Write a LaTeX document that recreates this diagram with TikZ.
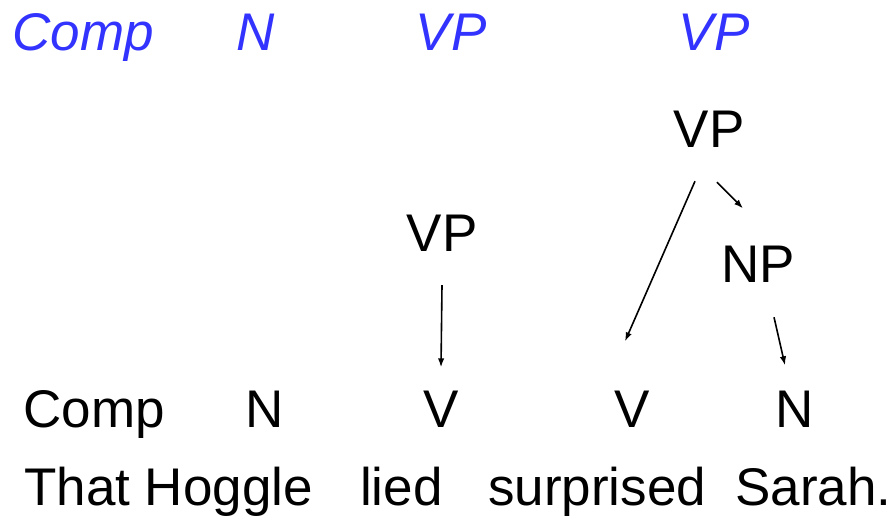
\documentclass[tikz,border=0pt]{standalone}
\usepackage{fontspec}
\setmainfont{Liberation Sans}
\usepackage{xcolor}
\usetikzlibrary{arrows,arrows.meta,positioning}
\definecolor{guessblue}{RGB}{51,51,255}

\begin{document}
\begin{tikzpicture}[
    x=1pt, y=-1pt,
    >={Latex[length=9pt,width=6.5pt]},
    font=\fontsize{53}{60}\selectfont,
    cat/.style={
		anchor=base,
		inner sep=0pt
	},
	guess/.style={
		cat,
		font=\fontsize{53}{60}\selectfont\itshape,
		text=guessblue
	},
	word/.style={
		anchor=base west,
		inner sep=0pt
	},
	link/.style={
		draw,
		->,
		line width=1.6pt
	}
  ]
  \useasboundingbox (0,0) rectangle (890,516);
    % We start by placing the guesses on top

  \node [guess] (gcomp) at (83,51) {Comp};
  \node [guess] (gn) at (256,51) {N};
  \node [guess] (gvpa) at (451,51) {VP};
  \node [guess] (gvpb) at (714,51) {VP};

  % the phrases
  \node [cat] (vptop) at (709,147) {VP};
  \node [cat] (vpmid) at (442,251) {VP};
  \node [cat] (np) at (758,282) {NP};

  % the word categories
  \node [cat] (comp) at (94,427) {Comp};
  \node [cat] (na) at (265,427) {N};
  \node [cat] (va) at (441,427) {V};
  \node [cat] (vb) at (632,427) {V};
  \node [cat] (nb) at (795,427) {N};

  % the sentence
  \node [word] (that) at (24,505) {That Hoggle};
  \node [word] (lied) at (360,505) {lied};
  \node [word] (surprised) at (488,505) {surprised};
  \node [word] (sarah) at (735,505) {Sarah.};

 \draw [link] ([yshift=-34pt]vpmid.south) -- ([yshift=23pt]va.north);
 \draw [link] ([xshift=-14pt,yshift=-34pt]vptop.south) -- ([xshift=-7pt,yshift=49pt]vb.north);
 \draw [link] ([xshift=8pt,yshift=-35pt]vptop.south) -- ([xshift=-15pt,yshift=37pt]np.north);
 \draw [link] ([xshift=16pt,yshift=-35pt]np.south) -- ([xshift=-10pt,yshift=25pt]nb.north);

\end{tikzpicture}
\end{document}
